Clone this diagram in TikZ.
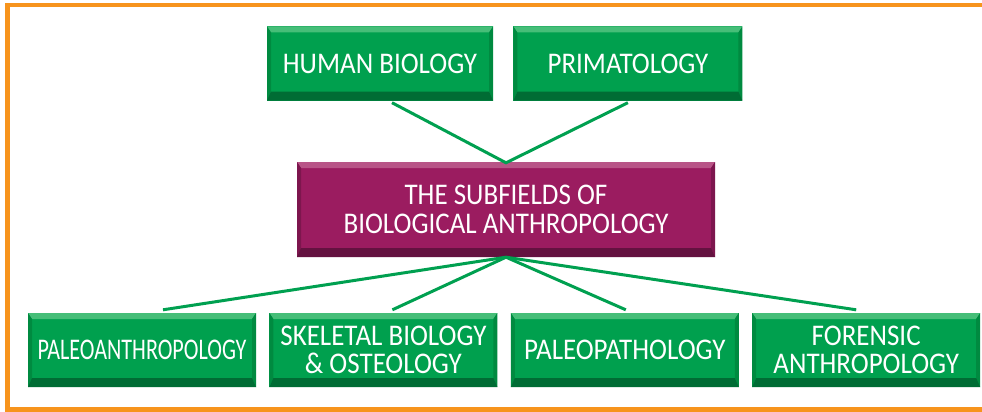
\documentclass[tikz,border=0pt]{standalone}
\usepackage{fontspec}
\setmainfont{Carlito}[FakeStretch=0.9]
\usetikzlibrary{positioning,calc}
\definecolor{fieldgreen}{RGB}{0,160,78}
\definecolor{fieldlight}{RGB}{70,190,120}
\definecolor{fieldside}{RGB}{0,138,64}
\definecolor{fielddark}{RGB}{0,108,52}
\definecolor{rootpurple}{RGB}{155,28,96}
\definecolor{rootlight}{RGB}{184,84,135}
\definecolor{rootside}{RGB}{125,22,78}
\definecolor{rootdark}{RGB}{100,18,64}
\definecolor{linegreen}{RGB}{0,160,80}
\definecolor{frameorange}{RGB}{247,148,29}
\tikzset{
    % raised button look: light top, darker sides, darkest bottom
    bevelled/.style n args={3}{path picture={
        \coordinate (nw) at (path picture bounding box.north west);
        \coordinate (ne) at (path picture bounding box.north east);
        \coordinate (sw) at (path picture bounding box.south west);
        \coordinate (se) at (path picture bounding box.south east);
        \fill[#1] (nw) -- (ne) -- ([shift={(-4pt,-6pt)}]ne) -- ([shift={(4pt,-6pt)}]nw) -- cycle;
        \fill[#2] (nw) -- ([shift={(4pt,-6pt)}]nw) -- ([shift={(4pt,9pt)}]sw) -- (sw) -- cycle;
        \fill[#2] (ne) -- ([shift={(-4pt,-6pt)}]ne) -- ([shift={(-4pt,9pt)}]se) -- (se) -- cycle;
        \fill[#3] (sw) -- (se) -- ([shift={(-4pt,9pt)}]se) -- ([shift={(4pt,9pt)}]sw) -- cycle;
    }},
    subfield/.style={rectangle, fill=fieldgreen, text=white, align=center,
        minimum width=228pt, minimum height=74pt, inner sep=2pt,
        font=\fontsize{30}{27.5}\selectfont,
        bevelled={fieldlight}{fieldside}{fielddark}},
    rootbox/.style={rectangle, fill=rootpurple, text=white, align=center,
        minimum width=418pt, minimum height=95pt,
        font=\fontsize{30}{28.5}\selectfont,
        bevelled={rootlight}{rootside}{rootdark}},
    branch/.style={draw=linegreen, line width=3pt}
}

\begin{document}
\begin{tikzpicture}[x=1pt,y=-1pt]
    \clip (0,0) rectangle (982,412);
    \fill[white] (0,0) rectangle (982,412);
    \draw[frameorange, line width=4.5pt] (7.5,5) rectangle (1000,409.5);

    \node[rootbox] (subfields) at (506,209.5) {THE SUBFIELDS OF\\BIOLOGICAL ANTHROPOLOGY};

    % upper row
    \node[subfield, minimum width=226pt] (humanbio) at (380,63.5) {HUMAN BIOLOGY};
    \node[subfield, minimum width=229pt] (primatology) [right=20pt of humanbio] {PRIMATOLOGY};

    % lower row
    \node[subfield] (paleoanth) at (142,350) {\scalebox{0.82}[1]{PALEOANTHROPOLOGY}};
    \node[subfield] (skeletal) [right=13pt of paleoanth] {SKELETAL BIOLOGY\\\& OSTEOLOGY};
    \node[subfield] (paleopath) [right=13pt of skeletal] {PALEOPATHOLOGY};
    \node[subfield] (forensic) [right=13pt of paleopath] {FORENSIC\\ANTHROPOLOGY};

    % connectors
    \draw[branch, line join=miter] ([xshift=12pt,yshift=-2pt]humanbio.south) -- ([yshift=-1pt]subfields.north)
        -- ([yshift=-2pt]primatology.south);
    \draw[branch] (subfields.south) -- ([xshift=21pt,yshift=3pt]paleoanth.north);
    \draw[branch] (subfields.south) -- ([xshift=9pt,yshift=3pt]skeletal.north);
    \draw[branch] (subfields.south) -- ([xshift=1pt,yshift=3pt]paleopath.north);
    \draw[branch] (subfields.south) -- ([xshift=-10pt,yshift=3pt]forensic.north);
\end{tikzpicture}
\end{document}
